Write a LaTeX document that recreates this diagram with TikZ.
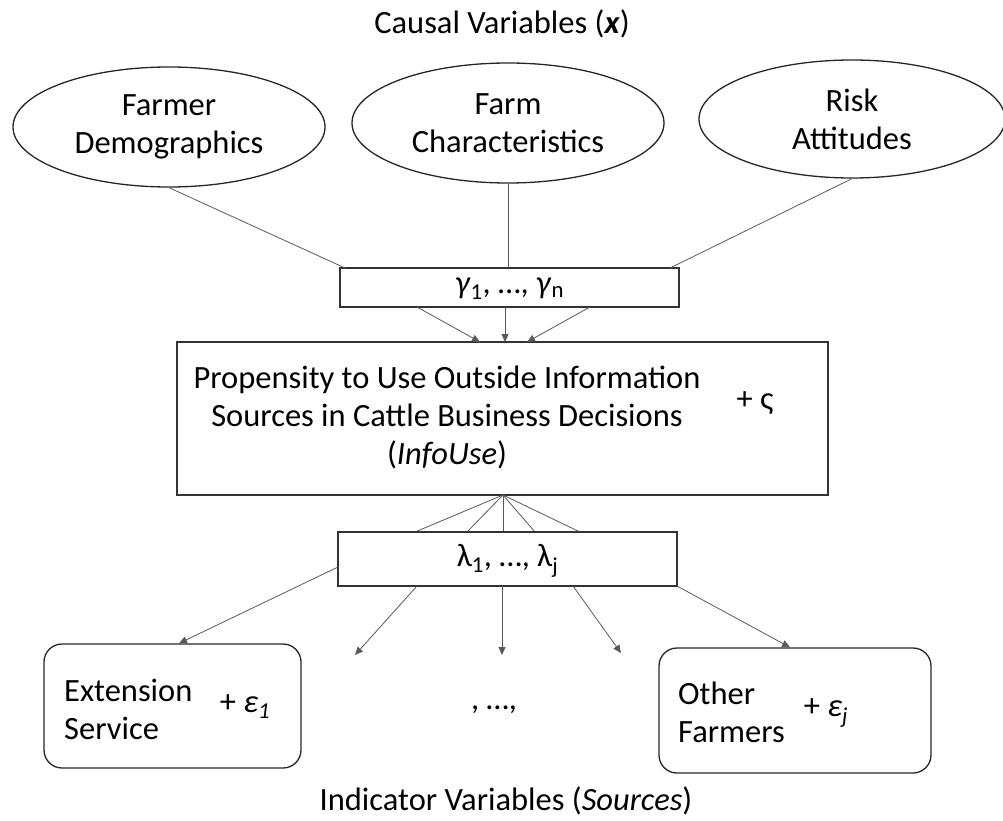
\documentclass[tikz,border=0pt]{standalone}
\usepackage{fontspec}
\setmainfont{Carlito}
\usetikzlibrary{shapes.geometric,arrows.meta}
\begin{document}
\begin{tikzpicture}[x=1pt,y=-1pt,
  every node/.style={font=\fontsize{32.5}{38}\selectfont, text=black},
  oval/.style={ellipse, draw=black!85, line width=1.3pt, minimum width=312pt, minimum height=120pt, inner sep=0pt, align=center},
  box/.style={rectangle, draw=black!80, line width=1.6pt, fill=white, inner sep=0pt},
  ind/.style={rectangle, rounded corners=18pt, draw=black!85, line width=1.3pt, inner sep=0pt},
  conn/.style={draw=black!65, line width=0.8pt},
  arr/.style={conn, -{Triangle[length=8pt,width=7pt]}},
  txt/.style={inner sep=0pt, align=center},
  ltxt/.style={inner sep=0pt, align=left, anchor=west}
]
\useasboundingbox (0,0) rectangle (1003,821);

% title
\node[txt, anchor=base] (title) at (502,34) {Causal Variables (\textbf{\textit{x}})};

% causal variables
\node[oval] (dem) at (169,127) {Farmer\\Demographics};
\node[oval] (cha) at (508,123) {Farm\\Characteristics};
\node[oval, minimum width=306pt, minimum height=118pt] (risk) at (852,119) {Risk\\Attitudes};

% gamma box
\node[box, minimum width=339pt, minimum height=39pt] (gam) at (509.5,287.5) {};
\node[txt] (gamt) at (509.5,289) {\textit{γ}\textsubscript{1}, …, \textit{γ}\textsubscript{n}};

% lines ellipses -> gamma
\coordinate (g1) at (345,268);
\coordinate (g2) at (508,268);
\coordinate (g3) at (670,268);
\draw[conn] (dem.south) -- (g1);
\draw[conn] (cha.south) -- (g2);
\draw[conn] (risk.south) -- (g3);

% main box
\node[box, minimum width=651pt, minimum height=153pt] (info) at (502.5,418.5) {};
\node[txt] (infot) at (447,417) {Propensity to Use Outside Information\\Sources in Cattle Business Decisions\\(\textit{InfoUse})};
\node[txt] (zeta) at (755,403) {+ ς};

% gamma -> main
\coordinate (gs1) at (417,307);
\coordinate (gs2) at (505,307);
\coordinate (gs3) at (590,307);
\coordinate (it1) at (480,342);
\coordinate (it2) at (505,342);
\coordinate (it3) at (527,342);
\draw[arr] (gs1) -- (it1);
\draw[arr] (gs2) -- (it2);
\draw[arr] (gs3) -- (it3);

% fan main -> lambda
\coordinate (ib) at (503,495);
\coordinate (lt1) at (415,532);
\coordinate (lt2) at (467,532);
\coordinate (lt3) at (503,532);
\coordinate (lt4) at (535,532);
\coordinate (lt5) at (580,532);
\foreach \t in {lt1,lt2,lt3,lt4,lt5} \draw[conn] (ib) -- (\t);

% lambda box
\node[box, minimum width=339pt, minimum height=54pt] (lam) at (507.5,559) {};
\node[txt] (lamt) at (507.5,561) {λ\textsubscript{1}, …, λ\textsubscript{j}};

% indicator boxes
\node[ind, minimum width=257pt, minimum height=124pt] (ext) at (172.5,706) {};
\node[ltxt] (extt) at (64,709) {Extension\\Service};
\node[txt] (exte) at (245,707) {+ \textit{ε\textsubscript{1}}};

\node[ind, minimum width=272pt, minimum height=125pt] (oth) at (795,710.5) {};
\node[ltxt] (otht) at (678,712) {Other\\Farmers};
\node[txt] (othe) at (826,713) {+ \textit{ε\textsubscript{j}}};

\node[txt] (dots) at (494,710) {, …,};

% lambda -> indicators
\coordinate (ls1) at (338,567);
\coordinate (ls2) at (417,586);
\coordinate (ls3) at (502,586);
\coordinate (ls4) at (573,586);
\coordinate (ls5) at (677,586);
\coordinate (e2) at (355,655);
\coordinate (e3) at (502,655);
\coordinate (e4) at (621,653);
\draw[arr] (ls1) -- (ext.north -| 179,0);
\draw[arr] (ls2) -- (e2);
\draw[arr] (ls3) -- (e3);
\draw[arr] (ls4) -- (e4);
\draw[arr] (ls5) -- (oth.north -| 790,0);

% bottom label
\node[txt, anchor=base] (indl) at (506,810) {Indicator Variables (\textit{Sources})};
\end{tikzpicture}
\end{document}
